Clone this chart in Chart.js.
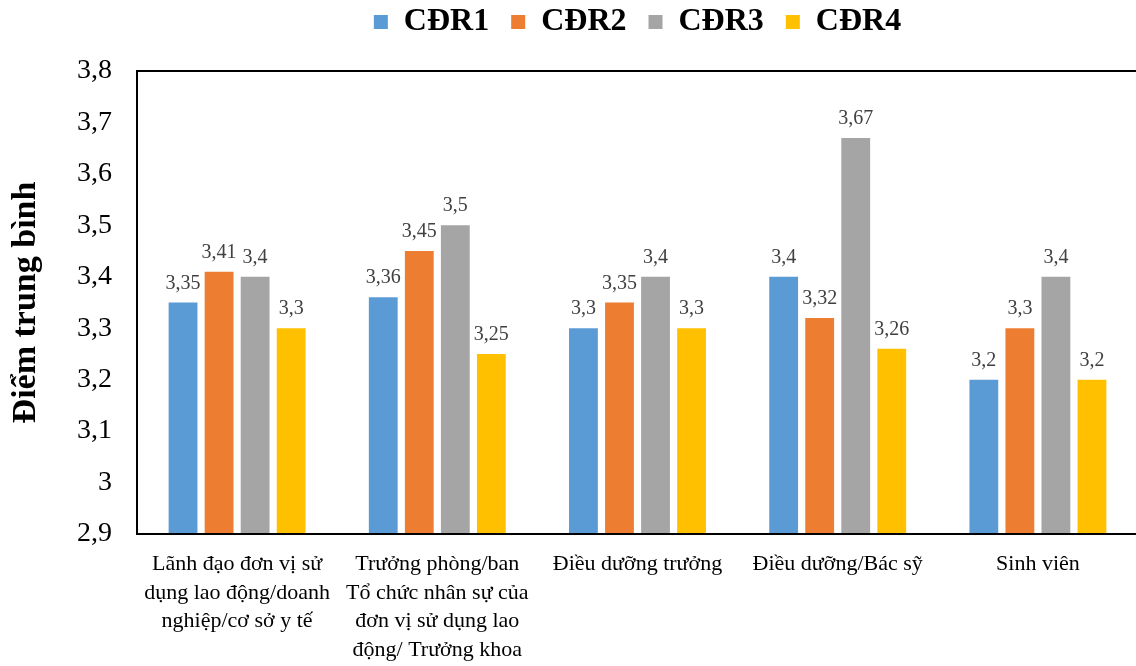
<!DOCTYPE html>
<html lang="vi">
<head>
<meta charset="utf-8">
<title>Điểm trung bình CĐR</title>
<script src="https://cdn.jsdelivr.net/npm/chart.js@4.4.1/dist/chart.umd.min.js"></script>
<style>
  html, body { margin: 0; padding: 0; background: #fff; overflow: hidden; }
  #wrap { width: 1136px; height: 666px; overflow: hidden; }
  #box { width: 1140px; height: 666px; }
</style>
</head>
<body>
<div id="wrap"><div id="box"><canvas id="chart"></canvas></div></div>
<script>
// Respondent groups (x-axis categories, wrapped as in the printed figure)
const categories = [
  ["Lãnh đạo đơn vị sử", "dụng lao động/doanh", "nghiệp/cơ sở y tế"],
  ["Trưởng phòng/ban", "Tổ chức nhân sự của", "đơn vị sử dụng lao", "động/ Trưởng khoa"],
  "Điều dưỡng trưởng",
  "Điều dưỡng/Bác sỹ",
  "Sinh viên"
];

// Mean score per learning outcome (CĐR) for each group
const seriesNames = ["CĐR1", "CĐR2", "CĐR3", "CĐR4"];
const cdr1 = [3.35, 3.36, 3.30, 3.40, 3.20];
const cdr2 = [3.41, 3.45, 3.35, 3.32, 3.30];
const cdr3 = [3.40, 3.50, 3.40, 3.67, 3.40];
const cdr4 = [3.30, 3.25, 3.30, 3.26, 3.20];
const seriesColors = ["#5B9BD5", "#ED7D31", "#A5A5A5", "#FFC000"];

// Value axis
const yMin = 2.9;
const yMax = 3.8;
const yStep = 0.1;
const yTitle = "Điểm trung bình";

const FONT = "'Liberation Serif', 'Times New Roman', serif";

// Vietnamese decimal comma, trailing zeros dropped (3.0 -> "3")
function fmt(v) {
  return Number(v.toFixed(2)).toString().replace('.', ',');
}

// Frame around the plot area
const frame = {
  id: 'frame',
  afterDatasetsDraw(chart) {
    const { ctx, chartArea: a } = chart;
    ctx.save();
    ctx.strokeStyle = '#000';
    ctx.lineWidth = 2;
    ctx.strokeRect(a.left, a.top, a.right - a.left, a.bottom - a.top);
    ctx.restore();
  }
};

// Value labels above each bar
const valueLabels = {
  id: 'valueLabels',
  afterDatasetsDraw(chart) {
    const { ctx } = chart;
    ctx.save();
    ctx.font = `20px ${FONT}`;
    ctx.fillStyle = '#404040';
    ctx.textAlign = 'center';
    ctx.textBaseline = 'alphabetic';
    chart.data.datasets.forEach((ds, i) => {
      chart.getDatasetMeta(i).data.forEach((bar, j) => {
        ctx.fillText(fmt(ds.data[j]), bar.x, bar.y - 14);
      });
    });
    ctx.restore();
  }
};

const seriesData = [cdr1, cdr2, cdr3, cdr4];

new Chart(document.getElementById('chart'), {
  type: 'bar',
  data: {
    labels: categories,
    datasets: seriesNames.map((name, i) => ({
      label: name,
      data: seriesData[i],
      backgroundColor: seriesColors[i],
      borderWidth: 0,
      barPercentage: 0.8,
      categoryPercentage: 0.72
    }))
  },
  options: {
    responsive: true,
    maintainAspectRatio: false,
    animation: false,
    layout: { padding: { top: -16, right: 2, bottom: 0, left: 0 } },
    plugins: {
      legend: {
        position: 'top',
        fullSize: false,
        labels: {
          boxWidth: 14,
          boxHeight: 14,
          padding: 22,
          color: '#000',
          font: { family: FONT, size: 32, weight: 'bold' }
        }
      },
      // empty spacer between legend and plot area
      title: {
        display: true,
        text: '',
        weight: 500,
        font: { size: 10, lineHeight: 1 },
        padding: { top: 7, bottom: 6 }
      },
      tooltip: { enabled: false }
    },
    scales: {
      x: {
        grid: { display: false, drawTicks: false },
        border: { display: false },
        ticks: {
          color: '#000',
          padding: 16,
          maxRotation: 0,
          autoSkip: false,
          font: { family: FONT, size: 22, lineHeight: 1.3 }
        },
        afterFit(scale) { scale.height = 132; }
      },
      y: {
        min: yMin,
        max: yMax,
        grid: { display: false, drawTicks: false },
        border: { display: false },
        ticks: {
          stepSize: yStep,
          color: '#000',
          padding: 25,
          font: { family: FONT, size: 28 },
          callback: (v) => fmt(v)
        },
        title: {
          display: true,
          text: yTitle,
          color: '#000',
          padding: { top: 6, bottom: 0 },
          font: { family: FONT, size: 34, weight: 'bold', lineHeight: 1.2 }
        },
        afterFit(scale) { scale.width = 137; }
      }
    }
  },
  plugins: [frame, valueLabels]
});
</script>
</body>
</html>
